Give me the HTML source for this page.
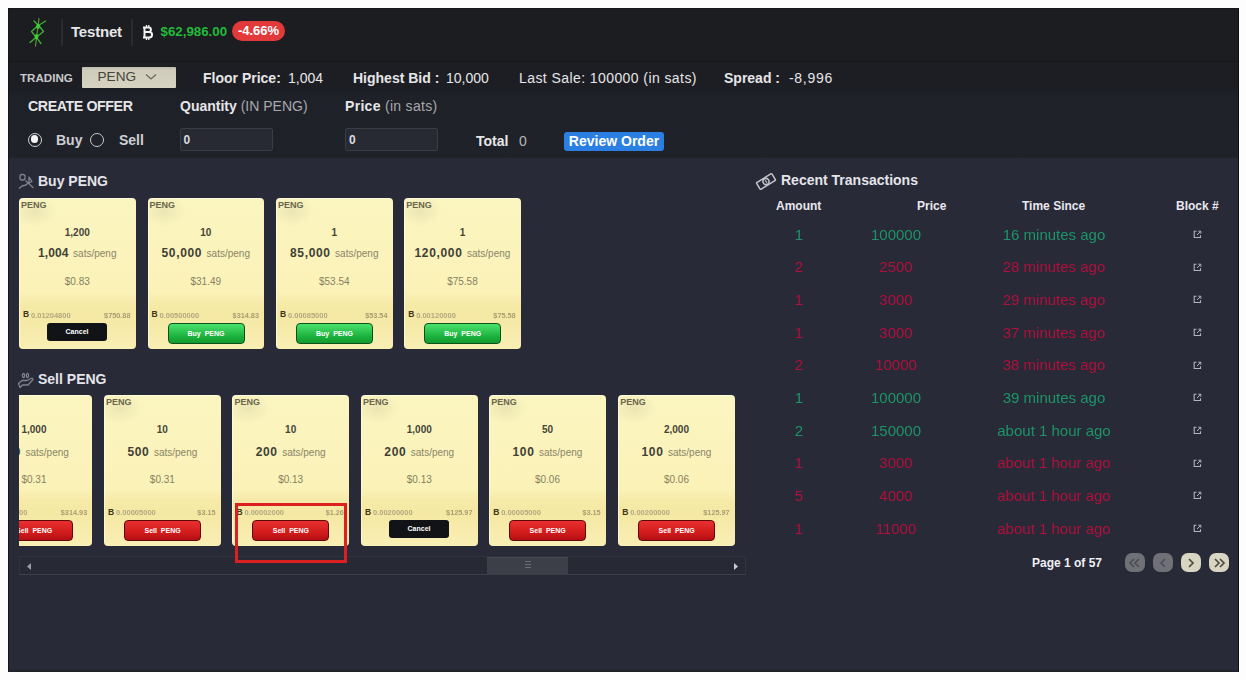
<!DOCTYPE html>
<html><head><meta charset="utf-8">
<style>
*{margin:0;padding:0;box-sizing:border-box}
html,body{width:1246px;height:680px;overflow:hidden;background:#fdfdfd;font-family:"Liberation Sans",sans-serif}
.a{position:absolute;white-space:nowrap}
#frame{position:absolute;left:8px;top:8px;width:1231px;height:664px;background:#282a38;overflow:hidden;border-left:1px solid #15161a;border-top:1px solid #15161a;border-right:1px solid #0c0d10;border-bottom:2px solid #202129}
#hdr{position:absolute;left:0;top:0;width:1231px;height:52.5px;background:#1c1d21;border-bottom:1.5px solid #161719}
#trd{position:absolute;left:0;top:52.5px;width:1231px;height:96px;background:linear-gradient(180deg,#1d1e23 0px,#1d1e23 27px,#1f2129 33px,#1f2229 100%)}
.w{color:#e6e6e8}
.b{font-weight:bold}

.card{position:absolute;width:116.5px;border-radius:4px;background:radial-gradient(ellipse 22px 16px at 16px 13px,rgba(215,210,165,0.45),rgba(215,210,165,0) 100%),linear-gradient(180deg,#fbf5c0 0%,#fbf2b8 62%,#f6eaa8 70%,#f5e8a4 78%,#f9efb4 100%);box-shadow:inset 1px 1px 0 rgba(255,255,240,0.6);overflow:hidden;color:#3a3a35}
.card .lbl{position:absolute;left:2px;top:2px;font-size:9px;font-weight:bold;color:#6a664c}
.card .qty{position:absolute;left:0;right:0;top:29px;text-align:center;font-size:10px;font-weight:bold;color:#46443a}
.card .pr{position:absolute;left:0;right:0;top:48px;text-align:center;font-size:12px;color:#403f36}
.card .pr b{font-weight:bold;letter-spacing:0.65px}
.card .pr span{font-size:10px;color:#8a8567;margin-left:4.5px}
.card .usd{position:absolute;left:0;right:0;top:78px;text-align:center;font-size:10px;color:#86815f}
.card .ft{position:absolute;left:0;right:0;top:103px;height:48px}
.card .bi{position:absolute;left:4px;top:112.5px;font-size:8.5px;font-weight:bold;color:#3e3515;line-height:1}
.card .bi::before{content:"B"}
.card .bt{position:absolute;left:12px;top:113px;font-size:7.5px;font-weight:bold;color:#b3a97e;filter:blur(0.3px)}
.card .ur{position:absolute;right:5px;top:113px;font-size:7.3px;font-weight:bold;color:#a89e72;filter:blur(0.3px)}
.card.s .pr{top:49.5px}
.card.s .usd{top:79px}
.btn{position:absolute;font-size:7px;font-weight:bold;color:#fff;text-align:center}
.bc{left:28px;top:125px;width:60px;height:18px;line-height:18px;background:#121317;border-radius:3px}
.bg{left:20px;top:125px;width:77px;height:21px;line-height:19px;background:linear-gradient(180deg,#4ae26e,#1aae3a 70%,#139a30);border:1.5px solid #0a5218;border-radius:4px}
.br{left:20px;top:125px;width:77px;height:21px;line-height:19px;background:linear-gradient(180deg,#e83030,#d21c1c 60%,#b40f12);border:1.5px solid #5e0808;border-radius:4px}
.tr{position:absolute;left:100px;top:0;height:17px;font-size:15px;line-height:17px}
.tr span{position:absolute;transform:translateX(-50%);white-space:nowrap}
.tr.g{color:#1c9466;filter:blur(0.5px)}
.tr.r{color:#b0103c;filter:blur(0.65px)}
.th{position:absolute;font-size:12px;font-weight:bold;color:#e8e8ee;white-space:nowrap}
.sec{position:absolute;font-size:14px;font-weight:bold;color:#e4e4ea;white-space:nowrap}
</style></head><body>
<div id="frame">
  <div id="hdr"></div>
  <div id="trd"></div>
</div>

<!-- header -->
<svg class="a" style="left:22px;top:14px" width="32" height="36" viewBox="0 0 32 36">
  <g stroke="#3fbf36" stroke-width="1.25" fill="none" stroke-linecap="round" stroke-linejoin="round" opacity="0.95">
    <path d="M17 4.5 L13.5 32" stroke="#5a9a34"/>
    <path d="M12 7 L16.5 11.5 L23.5 7"/>
    <path d="M16.5 11 L9.5 17.5 L14.2 23.2 L21.5 17.5 Z"/>
    <path d="M14.2 23.2 L8 28.5 M14.2 23.2 L19 29.5"/>
  </g>
  <ellipse cx="16" cy="12.5" rx="2" ry="2.5" fill="#44d83a" opacity="0.8"/>
  <ellipse cx="14.5" cy="22.5" rx="2" ry="2.5" fill="#44d83a" opacity="0.8"/>
</svg>
<div class="a" style="left:61px;top:19px;width:1.5px;height:27px;background:#2a2b31"></div>
<div class="a w b" style="left:71px;top:22.5px;font-size:15px;letter-spacing:-0.2px">Testnet</div>
<div class="a" style="left:131px;top:19px;width:1.5px;height:27px;background:#2a2b31"></div>
<svg class="a" style="left:142px;top:25px" width="12" height="15" viewBox="0 0 12 15"><g stroke="#f2f2f2" stroke-width="2" fill="none"><path d="M2.5 1.5V13.5M1 2.5H6.8C9.6 2.5 9.6 7 6.8 7H2.5M2.5 7H7.4C10.9 7 10.9 12.5 7.4 12.5H1"/><path d="M4.5 0V2.5M6.8 0V2.5M4.5 12.5V15M6.8 12.5V15" stroke-width="1.3"/></g></svg>
<div class="a b" style="left:160.5px;top:24px;font-size:13.3px;color:#22bb3a">$62,986.00</div>
<div class="a b" style="left:232px;top:21px;width:53px;height:20px;border-radius:10px;background:#e23a3a;color:#fff;font-size:13px;line-height:20px;text-align:center">-4.66%</div>

<!-- trading row -->
<div class="a b" style="left:20px;top:70.5px;font-size:11.6px;color:#c9c9cc">TRADING</div>
<div class="a" style="left:81.5px;top:67px;width:94px;height:20.5px;background:linear-gradient(180deg,#bdbbad 0px,#cfccbc 3px,#d6d3c3 100%);border-radius:1px"></div>
<div class="a" style="left:97.5px;top:68.8px;font-size:13.6px;color:#44433a">PENG</div>
<svg class="a" style="left:145px;top:73px" width="12" height="8" viewBox="0 0 12 8"><path d="M1 1.5 L6 6 L11 1.5" stroke="#6a685a" stroke-width="1.3" fill="none"/></svg>

<div class="a w b" style="left:203px;top:70px;font-size:14px">Floor Price:</div>
<div class="a w" style="left:288px;top:70px;font-size:14px">1,004</div>
<div class="a w b" style="left:353px;top:70px;font-size:14px">Highest Bid :</div>
<div class="a w" style="left:446px;top:70px;font-size:14px">10,000</div>
<div class="a w" style="left:519px;top:70px;font-size:14px;letter-spacing:0.42px">Last Sale: 100000 (in sats)</div>
<div class="a w b" style="left:724px;top:70px;font-size:14px">Spread :</div>
<div class="a w" style="left:789px;top:70px;font-size:14px;letter-spacing:0.7px">-8,996</div>

<div class="a w b" style="left:28px;top:97.8px;font-size:14.2px;letter-spacing:-0.4px">CREATE OFFER</div>
<div class="a w b" style="left:180px;top:98px;font-size:14px">Quantity <span style="font-weight:normal;color:#a8a8ac">(IN PENG)</span></div>
<div class="a w b" style="left:345px;top:98px;font-size:14px;letter-spacing:0.3px">Price <span style="font-weight:normal;color:#a8a8ac">(in sats)</span></div>

<!-- radios -->
<div class="a" style="left:28px;top:132.5px;width:14px;height:14px;border-radius:50%;border:1.4px solid #d0d0d4;background:#1f2128"><div style="position:absolute;left:1.9px;top:1.9px;width:7.4px;height:7.4px;border-radius:50%;background:#f4f4f6"></div></div>
<div class="a w b" style="left:56px;top:131.5px;font-size:14px;color:#cfcfd3">Buy</div>
<div class="a" style="left:90px;top:132.5px;width:14px;height:14px;border-radius:50%;border:1.5px solid #c8c8cc"></div>
<div class="a w b" style="left:119px;top:131.5px;font-size:14px;color:#cfcfd3">Sell</div>

<div class="a" style="left:180px;top:128px;width:93px;height:23px;background:#272933;border:1px solid #3a3c46;border-radius:2px"></div>
<div class="a w b" style="left:183.5px;top:133px;font-size:12px;color:#dcdce0">0</div>
<div class="a" style="left:345px;top:128px;width:93px;height:23px;background:#272933;border:1px solid #3a3c46;border-radius:2px"></div>
<div class="a w b" style="left:349px;top:133px;font-size:12px;color:#dcdce0">0</div>

<div class="a w b" style="left:476px;top:133px;font-size:14px">Total</div>
<div class="a" style="left:519px;top:133px;font-size:14px;color:#b8b8bc">0</div>
<div class="a b" style="left:564px;top:132px;width:100px;height:19px;border-radius:3px;background:#2b7fe3;color:#fff;font-size:14px;line-height:19px;text-align:center">Review Order</div>


<!-- section titles -->
<svg class="a" style="left:17px;top:171px" width="18" height="19" viewBox="0 0 18 19"><g stroke="#80828e" stroke-width="1.3" fill="none" stroke-linejoin="round"><rect x="3" y="3.5" width="5" height="5.5" rx="2"/><path d="M8.5 9.5l8 7.5M12 6l3 4.5-3 1.5zM2 17.5l3-2.5 4-1 3-3"/></g></svg>
<div class="sec" style="left:38px;top:173px">Buy PENG</div>
<svg class="a" style="left:17px;top:370px" width="18" height="19" viewBox="0 0 18 19"><g stroke="#80828e" stroke-width="1.3" fill="none" stroke-linejoin="round"><path d="M6.5 3.5c-1.5 0-1.5 4 0 4s1.5-4 0-4zM10.5 3.5c-1.5 0-1.5 4 0 4s1.5-4 0-4z"/><path d="M1.5 13.5l3.5-3h5l5-2.5 1 1.5-5 5.5h-5.5l-2.5 2.5z"/></g></svg>
<div class="sec" style="left:38px;top:371px">Sell PENG</div>

<svg class="a" style="left:755px;top:172px" width="22" height="19" viewBox="0 0 22 19"><g transform="rotate(-32 11 9.5)" stroke="#c4c4cc" stroke-width="1.5" fill="none"><rect x="2" y="5.5" width="18" height="8" rx="1"/><circle cx="11" cy="9.5" r="3"/><path d="M11 8v3" stroke-width="1.3"/></g></svg>
<div class="sec" style="left:781px;top:172px">Recent Transactions</div>

<div class="th" style="left:776px;top:199px">Amount</div>
<div class="th" style="left:917px;top:199px">Price</div>
<div class="th" style="left:1022px;top:199px">Time Since</div>
<div class="th" style="left:1176px;top:199px">Block #</div>

<!-- scrollbar -->
<div class="a" style="left:19px;top:556px;width:727px;height:19px;background:#272934;border:1px solid #30323c;border-bottom:1px solid #3d404b"></div>
<div class="a" style="left:487px;top:556.5px;width:81px;height:18px;background:#3d3f48;border-top:1px solid #464852"></div>
<div class="a" style="left:525px;top:561px;width:6px;height:7px;border-top:1px solid #6a6d78;border-bottom:1px solid #6a6d78"></div>
<div class="a" style="left:525px;top:564px;width:6px;height:1px;background:#6a6d78"></div>
<svg class="a" style="left:27px;top:562.5px" width="5" height="7" viewBox="0 0 5 7"><path d="M4 0v7L0 3.5z" fill="#9a9ca6"/></svg>
<svg class="a" style="left:734px;top:562.5px" width="5" height="7" viewBox="0 0 5 7"><path d="M0 0v7l4-3.5z" fill="#c8cad2"/></svg>


<!-- pagination -->
<div class="a b" style="left:1032px;top:556px;font-size:12px;color:#f0f0f4">Page 1 of 57</div>
<div class="a" style="left:1125px;top:553px;width:19.5px;height:19px;border-radius:7px;background:#707177"></div>
<div class="a" style="left:1153px;top:553px;width:19.5px;height:19px;border-radius:7px;background:#707177"></div>
<div class="a" style="left:1181px;top:553px;width:19.5px;height:19px;border-radius:7px;background:#d8d6c2"></div>
<div class="a" style="left:1209px;top:553px;width:19.5px;height:19px;border-radius:7px;background:#d8d6c2"></div>
<svg class="a" style="left:1125px;top:553px" width="20" height="20" viewBox="0 0 20 20"><path d="M9 6l-4 4 4 4M14 6l-4 4 4 4" stroke="#4e4f54" stroke-width="1.7" fill="none"/></svg>
<svg class="a" style="left:1153px;top:553px" width="20" height="20" viewBox="0 0 20 20"><path d="M12 6l-4 4 4 4" stroke="#4e4f54" stroke-width="1.7" fill="none"/></svg>
<svg class="a" style="left:1181px;top:553px" width="20" height="20" viewBox="0 0 20 20"><path d="M8 6l4 4-4 4" stroke="#4c4c3c" stroke-width="1.7" fill="none"/></svg>
<svg class="a" style="left:1209px;top:553px" width="20" height="20" viewBox="0 0 20 20"><path d="M6 6l4 4-4 4M11 6l4 4-4 4" stroke="#4c4c3c" stroke-width="1.7" fill="none"/></svg>
<div class="card" style="left:19px;top:197.6px;height:151px">
<div class="lbl">PENG</div>
<div class="qty">1,200</div>
<div class="pr"><b style="letter-spacing:0.1px">1,004</b><span>sats/peng</span></div>
<div class="usd">$0.83</div>
<div class="ft"></div>
<div class="bi"></div><div class="bt">0.01204800</div><div class="ur">$750.88</div>
<div class="btn bc">Cancel</div>
</div>
<div class="card" style="left:147.5px;top:197.6px;height:151px">
<div class="lbl">PENG</div>
<div class="qty">10</div>
<div class="pr"><b>50,000</b><span>sats/peng</span></div>
<div class="usd">$31.49</div>
<div class="ft"></div>
<div class="bi"></div><div class="bt">0.00500000</div><div class="ur">$314.83</div>
<div class="btn bg">Buy&nbsp; PENG</div>
</div>
<div class="card" style="left:276px;top:197.6px;height:151px">
<div class="lbl">PENG</div>
<div class="qty">1</div>
<div class="pr"><b>85,000</b><span>sats/peng</span></div>
<div class="usd">$53.54</div>
<div class="ft"></div>
<div class="bi"></div><div class="bt">0.00085000</div><div class="ur">$53.54</div>
<div class="btn bg">Buy&nbsp; PENG</div>
</div>
<div class="card" style="left:404.2px;top:197.6px;height:151px">
<div class="lbl">PENG</div>
<div class="qty">1</div>
<div class="pr"><b>120,000</b><span>sats/peng</span></div>
<div class="usd">$75.58</div>
<div class="ft"></div>
<div class="bi"></div><div class="bt">0.00120000</div><div class="ur">$75.58</div>
<div class="btn bg">Buy&nbsp; PENG</div>
</div>
<div class="a" style="left:19px;top:380px;width:726px;height:200px;overflow:hidden">
<div class="card s" style="left:-43.3px;top:15px;height:150.5px">
<div class="lbl">PENG</div>
<div class="qty">1,000</div>
<div class="pr"><b>300</b><span>sats/peng</span></div>
<div class="usd">$0.31</div>
<div class="ft"></div>
<div class="bi"></div><div class="bt">0.00300000</div><div class="ur">$314.93</div>
<div class="btn br">Sell&nbsp; PENG</div>
</div>
<div class="card s" style="left:85.1px;top:15px;height:150.5px">
<div class="lbl">PENG</div>
<div class="qty">10</div>
<div class="pr"><b>500</b><span>sats/peng</span></div>
<div class="usd">$0.31</div>
<div class="ft"></div>
<div class="bi"></div><div class="bt">0.00005000</div><div class="ur">$3.15</div>
<div class="btn br">Sell&nbsp; PENG</div>
</div>
<div class="card s" style="left:213.4px;top:15px;height:150.5px">
<div class="lbl">PENG</div>
<div class="qty">10</div>
<div class="pr"><b>200</b><span>sats/peng</span></div>
<div class="usd">$0.13</div>
<div class="ft"></div>
<div class="bi"></div><div class="bt">0.00002000</div><div class="ur">$1.26</div>
<div class="btn br">Sell&nbsp; PENG</div>
</div>
<div class="card s" style="left:342px;top:15px;height:150.5px">
<div class="lbl">PENG</div>
<div class="qty">1,000</div>
<div class="pr"><b>200</b><span>sats/peng</span></div>
<div class="usd">$0.13</div>
<div class="ft"></div>
<div class="bi"></div><div class="bt">0.00200000</div><div class="ur">$125.97</div>
<div class="btn bc">Cancel</div>
</div>
<div class="card s" style="left:470.2px;top:15px;height:150.5px">
<div class="lbl">PENG</div>
<div class="qty">50</div>
<div class="pr"><b>100</b><span>sats/peng</span></div>
<div class="usd">$0.06</div>
<div class="ft"></div>
<div class="bi"></div><div class="bt">0.00005000</div><div class="ur">$3.15</div>
<div class="btn br">Sell&nbsp; PENG</div>
</div>
<div class="card s" style="left:599.2px;top:15px;height:150.5px">
<div class="lbl">PENG</div>
<div class="qty">2,000</div>
<div class="pr"><b>100</b><span>sats/peng</span></div>
<div class="usd">$0.06</div>
<div class="ft"></div>
<div class="bi"></div><div class="bt">0.00200000</div><div class="ur">$125.97</div>
<div class="btn br">Sell&nbsp; PENG</div>
</div>
</div>
<div class="tr g" style="top:225.8px"><span style="left:699px">1</span><span style="left:796px">100000</span><span style="left:954px">16 minutes ago</span></div>
<div class="a" style="left:1192.5px;top:230.0px;width:9px;height:9px;line-height:0;filter:blur(0.3px)"><svg width="9" height="9" viewBox="0 0 9 9"><path d="M7.5 5.2v2.3h-6.3v-6.3h2.3" stroke="#b4b4bc" stroke-width="1.1" fill="none"/><path d="M4 5l3.5-3.5M5.3 1.2h2.5v2.5" stroke="#b4b4bc" stroke-width="1" fill="none"/></svg></div>
<div class="tr r" style="top:258.4px"><span style="left:699px">2</span><span style="left:796px">2500</span><span style="left:954px">28 minutes ago</span></div>
<div class="a" style="left:1192.5px;top:262.6px;width:9px;height:9px;line-height:0;filter:blur(0.3px)"><svg width="9" height="9" viewBox="0 0 9 9"><path d="M7.5 5.2v2.3h-6.3v-6.3h2.3" stroke="#b4b4bc" stroke-width="1.1" fill="none"/><path d="M4 5l3.5-3.5M5.3 1.2h2.5v2.5" stroke="#b4b4bc" stroke-width="1" fill="none"/></svg></div>
<div class="tr r" style="top:291.1px"><span style="left:699px">1</span><span style="left:796px">3000</span><span style="left:954px">29 minutes ago</span></div>
<div class="a" style="left:1192.5px;top:295.3px;width:9px;height:9px;line-height:0;filter:blur(0.3px)"><svg width="9" height="9" viewBox="0 0 9 9"><path d="M7.5 5.2v2.3h-6.3v-6.3h2.3" stroke="#b4b4bc" stroke-width="1.1" fill="none"/><path d="M4 5l3.5-3.5M5.3 1.2h2.5v2.5" stroke="#b4b4bc" stroke-width="1" fill="none"/></svg></div>
<div class="tr r" style="top:323.8px"><span style="left:699px">1</span><span style="left:796px">3000</span><span style="left:954px">37 minutes ago</span></div>
<div class="a" style="left:1192.5px;top:327.9px;width:9px;height:9px;line-height:0;filter:blur(0.3px)"><svg width="9" height="9" viewBox="0 0 9 9"><path d="M7.5 5.2v2.3h-6.3v-6.3h2.3" stroke="#b4b4bc" stroke-width="1.1" fill="none"/><path d="M4 5l3.5-3.5M5.3 1.2h2.5v2.5" stroke="#b4b4bc" stroke-width="1" fill="none"/></svg></div>
<div class="tr r" style="top:356.4px"><span style="left:699px">2</span><span style="left:796px">10000</span><span style="left:954px">38 minutes ago</span></div>
<div class="a" style="left:1192.5px;top:360.6px;width:9px;height:9px;line-height:0;filter:blur(0.3px)"><svg width="9" height="9" viewBox="0 0 9 9"><path d="M7.5 5.2v2.3h-6.3v-6.3h2.3" stroke="#b4b4bc" stroke-width="1.1" fill="none"/><path d="M4 5l3.5-3.5M5.3 1.2h2.5v2.5" stroke="#b4b4bc" stroke-width="1" fill="none"/></svg></div>
<div class="tr g" style="top:389.1px"><span style="left:699px">1</span><span style="left:796px">100000</span><span style="left:954px">39 minutes ago</span></div>
<div class="a" style="left:1192.5px;top:393.2px;width:9px;height:9px;line-height:0;filter:blur(0.3px)"><svg width="9" height="9" viewBox="0 0 9 9"><path d="M7.5 5.2v2.3h-6.3v-6.3h2.3" stroke="#b4b4bc" stroke-width="1.1" fill="none"/><path d="M4 5l3.5-3.5M5.3 1.2h2.5v2.5" stroke="#b4b4bc" stroke-width="1" fill="none"/></svg></div>
<div class="tr g" style="top:421.7px"><span style="left:699px">2</span><span style="left:796px">150000</span><span style="left:954px">about 1 hour ago</span></div>
<div class="a" style="left:1192.5px;top:425.9px;width:9px;height:9px;line-height:0;filter:blur(0.3px)"><svg width="9" height="9" viewBox="0 0 9 9"><path d="M7.5 5.2v2.3h-6.3v-6.3h2.3" stroke="#b4b4bc" stroke-width="1.1" fill="none"/><path d="M4 5l3.5-3.5M5.3 1.2h2.5v2.5" stroke="#b4b4bc" stroke-width="1" fill="none"/></svg></div>
<div class="tr r" style="top:454.4px"><span style="left:699px">1</span><span style="left:796px">3000</span><span style="left:954px">about 1 hour ago</span></div>
<div class="a" style="left:1192.5px;top:458.6px;width:9px;height:9px;line-height:0;filter:blur(0.3px)"><svg width="9" height="9" viewBox="0 0 9 9"><path d="M7.5 5.2v2.3h-6.3v-6.3h2.3" stroke="#b4b4bc" stroke-width="1.1" fill="none"/><path d="M4 5l3.5-3.5M5.3 1.2h2.5v2.5" stroke="#b4b4bc" stroke-width="1" fill="none"/></svg></div>
<div class="tr r" style="top:487.0px"><span style="left:699px">5</span><span style="left:796px">4000</span><span style="left:954px">about 1 hour ago</span></div>
<div class="a" style="left:1192.5px;top:491.2px;width:9px;height:9px;line-height:0;filter:blur(0.3px)"><svg width="9" height="9" viewBox="0 0 9 9"><path d="M7.5 5.2v2.3h-6.3v-6.3h2.3" stroke="#b4b4bc" stroke-width="1.1" fill="none"/><path d="M4 5l3.5-3.5M5.3 1.2h2.5v2.5" stroke="#b4b4bc" stroke-width="1" fill="none"/></svg></div>
<div class="tr r" style="top:519.6px"><span style="left:699px">1</span><span style="left:796px">11000</span><span style="left:954px">about 1 hour ago</span></div>
<div class="a" style="left:1192.5px;top:523.9px;width:9px;height:9px;line-height:0;filter:blur(0.3px)"><svg width="9" height="9" viewBox="0 0 9 9"><path d="M7.5 5.2v2.3h-6.3v-6.3h2.3" stroke="#b4b4bc" stroke-width="1.1" fill="none"/><path d="M4 5l3.5-3.5M5.3 1.2h2.5v2.5" stroke="#b4b4bc" stroke-width="1" fill="none"/></svg></div><!-- red highlight -->
<div class="a" style="left:235px;top:503px;width:112px;height:60px;border:3px solid #dc1f1f"></div>
</body></html>
